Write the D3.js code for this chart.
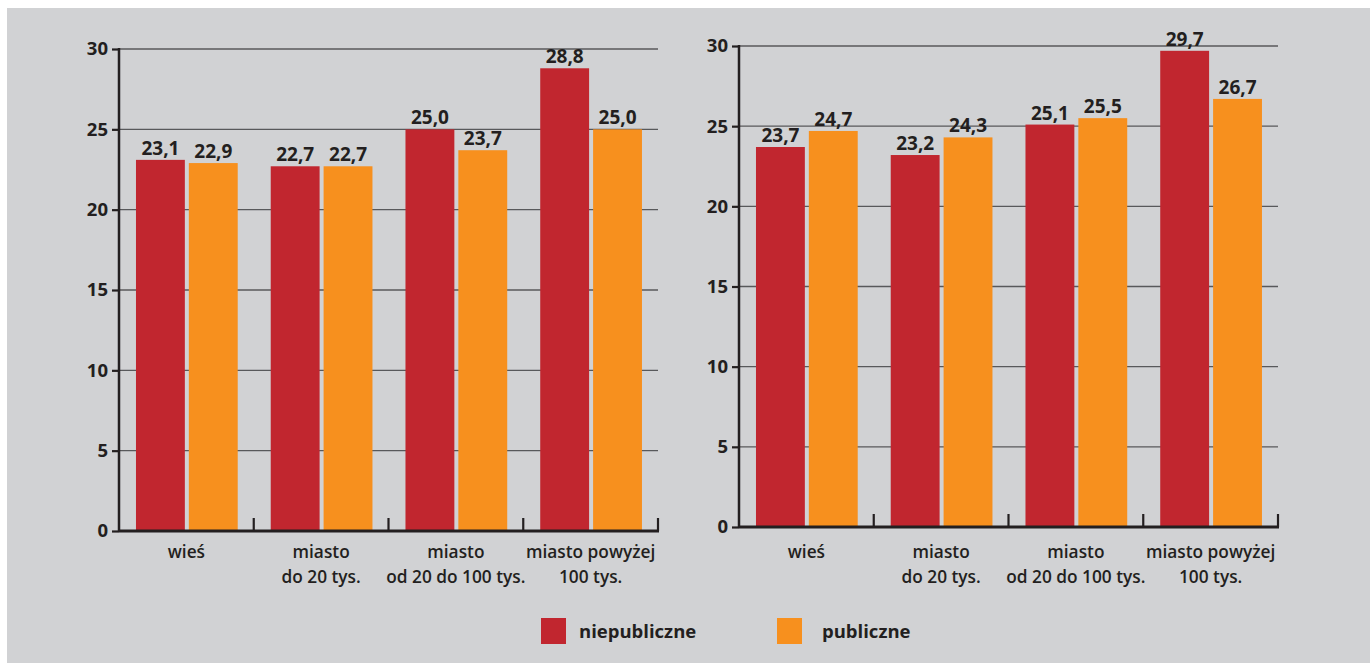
<!DOCTYPE html>
<html>
<head>
<meta charset="utf-8">
<script src="https://cdn.jsdelivr.net/npm/d3@7"></script>
<style>
html,body{margin:0;padding:0;background:#fff;}
svg{display:block;}
text{font-family:"Open Sans","Noto Sans",sans-serif;fill:#231f20;}
</style>
</head>
<body>
<svg id="chart" width="1370" height="663"></svg>
<script>
const categories = [["wieś"], ["miasto", "do 20 tys."], ["miasto", "od 20 do 100 tys."], ["miasto powyżej", "100 tys."]];
const seriesNames = ["niepubliczne", "publiczne"];
const seriesColors = ["#c1262f", "#f7901e"];
const leftNiepubliczne = [23.1, 22.7, 25.0, 28.8];
const leftPubliczne = [22.9, 22.7, 23.7, 25.0];
const rightNiepubliczne = [23.7, 23.2, 25.1, 29.7];
const rightPubliczne = [24.7, 24.3, 25.5, 26.7];
const yTicks = [0, 5, 10, 15, 20, 25, 30];

const svg = d3.select("#chart");
svg.append("rect").attr("x", 7).attr("y", 8).attr("width", 1363).attr("height", 655).attr("fill", "#d1d2d4");

function fmt(v){ return v.toFixed(1).replace(".", ","); }

function drawPanel(x0px, x1px, y0px, y30px, s1, s2) {
  const g = svg.append("g");
  const y = d3.scaleLinear().domain([0, 30]).range([y0px, y30px]);
  const catIdx = categories.map((c, i) => i);
  const x0 = d3.scaleBand().domain(catIdx).range([x0px, x1px]).padding(0);
  const bw = x0.bandwidth();
  const x1 = d3.scaleBand().domain(seriesNames).range([bw * 0.126, bw * 0.881]).paddingInner(0.0755).paddingOuter(0);

  // gridlines
  g.selectAll("line.grid").data(yTicks.filter(t => t > 0)).join("line")
    .attr("x1", x0px).attr("x2", x1px)
    .attr("y1", d => y(d)).attr("y2", d => y(d))
    .attr("stroke", "#58595b").attr("stroke-width", 1.3);

  // bars
  const data = catIdx.map(i => [{s: seriesNames[0], v: s1[i]}, {s: seriesNames[1], v: s2[i]}]);
  const grp = g.selectAll("g.cat").data(data).join("g")
    .attr("transform", (d, i) => `translate(${x0(i)},0)`);
  grp.selectAll("rect").data(d => d).join("rect")
    .attr("x", d => x1(d.s)).attr("width", x1.bandwidth())
    .attr("y", d => y(d.v)).attr("height", d => y(0) - y(d.v))
    .attr("fill", (d, j) => seriesColors[j]);
  grp.selectAll("text.val").data(d => d).join("text")
    .attr("class", "val")
    .attr("x", d => x1(d.s) + x1.bandwidth() / 2)
    .attr("y", d => y(d.v) - 5)
    .attr("text-anchor", "middle")
    .attr("font-size", 19).attr("font-weight", 700)
    .text(d => fmt(d.v));

  // y axis
  const yAxis = d3.axisLeft(y).tickValues(yTicks).tickSize(7).tickPadding(4).tickFormat(d3.format("d"));
  const ya = g.append("g").attr("transform", `translate(${x0px},0)`).call(yAxis);
  ya.select(".domain").remove();
  ya.selectAll(".tick line").attr("stroke", "#231f20").attr("stroke-width", 2.2);
  ya.selectAll(".tick text").attr("font-size", 18.5).attr("font-weight", 700)
    .attr("font-family", '"Open Sans","Noto Sans",sans-serif').attr("fill", "#231f20");
  g.append("line").attr("x1", x0px).attr("x2", x0px).attr("y1", y30px - 1).attr("y2", y0px + 1)
    .attr("stroke", "#231f20").attr("stroke-width", 2.5);

  // x axis
  g.append("line").attr("x1", x0px).attr("x2", x1px + 1).attr("y1", y0px).attr("y2", y0px)
    .attr("stroke", "#231f20").attr("stroke-width", 2.8);
  const boundaries = catIdx.map(i => x0(i) + bw);
  g.selectAll("line.xt").data(boundaries).join("line")
    .attr("x1", d => d).attr("x2", d => d)
    .attr("y1", y0px).attr("y2", y0px - 13)
    .attr("stroke", "#231f20").attr("stroke-width", 2.2);

  // category labels
  const lab = g.selectAll("text.cat").data(categories).join("text")
    .attr("class", "cat")
    .attr("text-anchor", "middle")
    .attr("font-size", 17.3).attr("font-weight", 600);
  lab.selectAll("tspan").data((d, i) => d.map(t => ({t, i}))).join("tspan")
    .attr("x", d => x0(d.i) + bw / 2)
    .attr("y", (d, k) => 558 + k * 25)
    .text(d => d.t);
}

drawPanel(119, 658, 531, 49, leftNiepubliczne, leftPubliczne);
drawPanel(739, 1278, 527, 46, rightNiepubliczne, rightPubliczne);

// legend
const legendX = [541, 777];
const lg = svg.selectAll("g.leg").data(seriesNames).join("g")
  .attr("transform", (d, i) => `translate(${legendX[i]},618)`);
lg.append("rect").attr("width", 25).attr("height", 26).attr("fill", (d, i) => seriesColors[i]);
lg.append("text").attr("x", (d, i) => i === 0 ? 38 : 45).attr("y", 20)
  .attr("font-size", 18.5).attr("font-weight", 700).text(d => d);
</script>
</body>
</html>
